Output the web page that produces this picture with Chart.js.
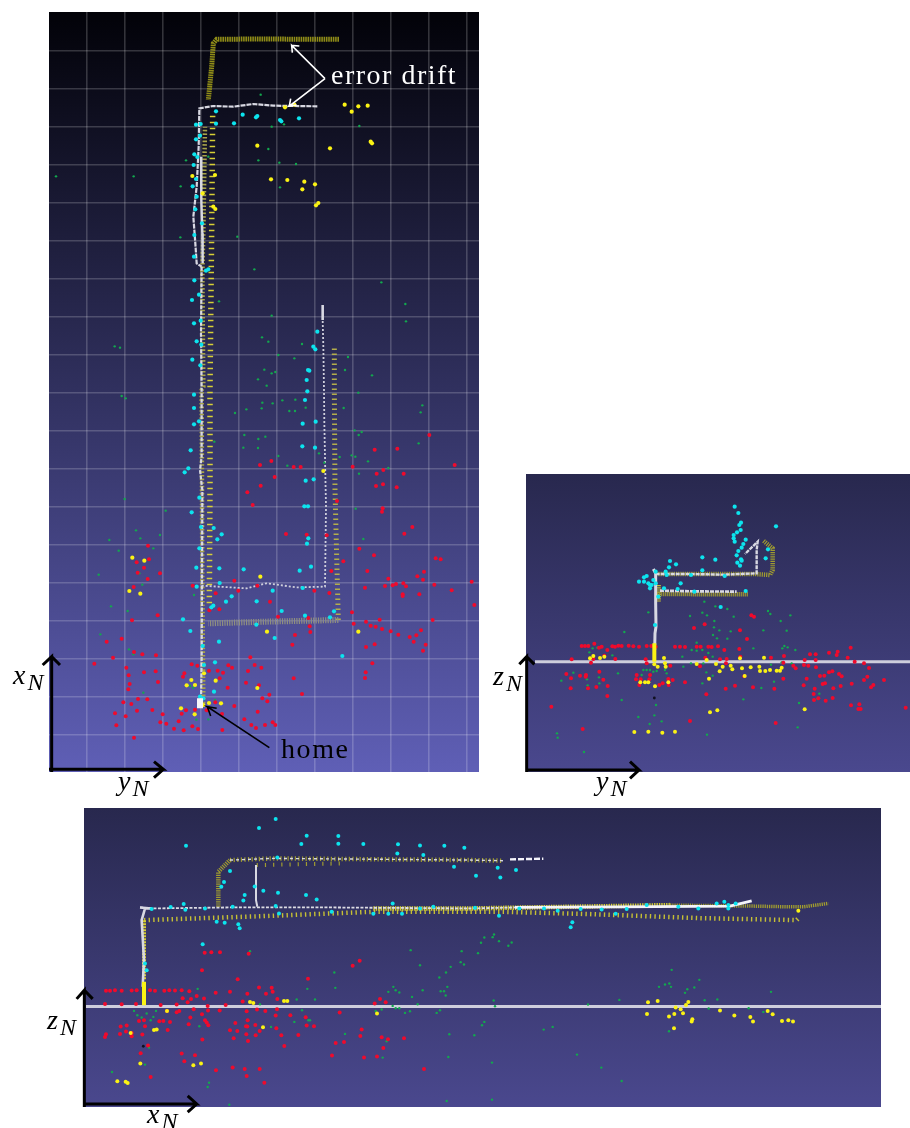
<!DOCTYPE html>
<html>
<head>
<meta charset="utf-8">
<title>Map views</title>
<script src="https://cdn.jsdelivr.net/npm/chart.js"></script>
<style>
html, body { margin: 0; padding: 0; background: #fff; }
body { position: relative; width: 910px; height: 1128px; overflow: hidden; }
canvas { position: absolute; display: block; }
.lbl { position: absolute; font-family: "Liberation Serif", serif; font-size: 28px; line-height: 28px; white-space: nowrap; color: #000; }
.lbl i sub { font-size: 24px; line-height: 0; vertical-align: -6px; margin-left: 2px; }
</style>
</head>
<body>
<canvas id="topView"></canvas>
<canvas id="sideView"></canvas>
<canvas id="frontView"></canvas>
<div class="lbl" style="left:331px;top:61px;color:#fff;letter-spacing:1.5px">error drift</div>
<div class="lbl" style="left:281px;top:735px;letter-spacing:1.6px">home</div>
<div class="lbl" style="left:13px;top:661px"><i>x<sub>N</sub></i></div>
<div class="lbl" style="left:118px;top:767px"><i>y<sub>N</sub></i></div>
<div class="lbl" style="left:493px;top:662px"><i>z<sub>N</sub></i></div>
<div class="lbl" style="left:596px;top:767px"><i>y<sub>N</sub></i></div>
<div class="lbl" style="left:47px;top:1006px"><i>z<sub>N</sub></i></div>
<div class="lbl" style="left:147px;top:1100px"><i>x<sub>N</sub></i></div>
<script>
// ========== TOP VIEW DATA (y_N, x_N) ========== //
const topGridY = [113,228,341,456,570,684,798,912,1026,1140,1253];
const topGridX = [112,226,340,454,568,682,796,910,1024,1138,1252,1366,1480,1594,1708,1822,1936,2050,2164];
const topRed = [[1141,1011],[977,967],[1045,970],[1217,921],[633,921],[667,933],[734,915],[755,915],[911,916],[1003,906],[983,895],[1064,895],[677,885],[635,859],[595,839],[981,858],[1002,863],[1043,854],[611,801],[864,813],[1001,791],[999,781],[1090,735],[1066,715],[711,714],[773,712],[833,710],[297,679],[931,670],[975,650],[300,638],[263,629],[285,613],[266,598],[333,596],[296,579],[883,632],[1160,641],[1175,638],[847,603],[955,603],[1125,601],[1105,587],[1122,577],[1018,580],[556,574],[948,553],[1008,558],[1031,560],[1041,564],[1063,566],[1071,557],[1156,562],[1268,571],[431,559],[254,555],[568,544],[625,559],[796,544],[841,537],[500,536],[1061,533],[1111,533],[1208,545],[1061,528],[663,511],[1276,501],[481,485],[511,488],[909,479],[326,470],[249,455],[687,466],[778,462],[914,445],[951,451],[992,457],[1151,456],[965,439],[980,436],[999,429],[1025,422],[782,437],[784,420],[1048,412],[1082,405],[1102,410],[1116,425],[738,411],[1094,391],[1130,382],[173,391],[218,400],[730,382],[951,375],[977,383],[1122,364],[255,360],[280,353],[321,350],[192,343],[604,344],[136,325],[232,313],[428,323],[445,319],[538,320],[549,313],[617,321],[637,313],[597,303],[970,326],[480,304],[506,304],[522,298],[406,296],[402,286],[285,299],[320,302],[239,290],[950,299],[948,282],[734,281],[512,281],[327,270],[591,268],[242,264],[536,253],[630,260],[238,248],[661,232],[759,234],[640,221],[655,212],[267,219],[295,218],[223,209],[247,204],[499,209],[556,198],[264,184],[310,186],[411,185],[438,187],[473,185],[626,181],[519,174],[198,176],[230,167],[341,173],[398,175],[586,158],[334,149],[352,145],[389,152],[607,141],[648,141],[671,149],[679,141],[202,140],[430,137],[621,132],[375,130],[404,125],[447,129],[520,126],[255,103]];
const topYellow = [[887,2002],[908,1981],[928,1997],[956,1999],[708,1994],[736,2002],[625,1879],[843,1871],[965,1891],[969,1886],[666,1778],[715,1776],[766,1771],[798,1763],[760,1748],[808,1707],[801,1700],[498,1791],[430,1788],[493,1696],[499,1689],[461,1736],[250,643],[286,634],[241,543],[274,535],[823,903],[634,586],[928,421],[654,421],[427,276],[413,260],[438,261],[500,274],[625,252],[396,191],[437,173],[480,207],[516,206],[463,201],[465,296]];
const topCyan = [[501,1982],[581,1972],[625,1968],[621,1964],[693,1956],[697,1952],[750,1961],[555,1946],[501,1945],[441,1942],[455,1944],[453,1909],[441,1898],[436,1853],[445,1845],[434,1821],[441,1779],[431,1757],[443,1726],[439,1688],[459,1646],[436,1611],[435,1546],[478,1508],[471,1504],[436,1475],[450,1432],[429,1416],[455,1354],[435,1346],[443,1292],[457,1282],[430,1237],[454,1220],[805,1321],[793,1276],[799,1268],[781,1204],[777,1206],[773,1176],[435,1132],[775,1142],[768,1116],[435,1092],[450,1052],[435,1043],[800,1051],[761,1045],[760,977],[798,973],[425,965],[418,911],[407,899],[770,874],[794,878],[451,823],[766,797],[777,797],[428,779],[456,735],[494,732],[518,713],[505,698],[778,701],[774,685],[451,671],[786,616],[752,604],[584,608],[511,611],[442,613],[512,567],[443,556],[671,544],[761,552],[548,527],[531,511],[623,512],[493,499],[487,494],[855,482],[698,483],[768,469],[843,464],[402,458],[622,442],[424,423],[677,402],[510,391],[880,348],[498,329],[461,378],[465,321],[453,226],[463,221],[495,241]];
const topGreen = [[21,1787],[254,1787],[635,2032],[668,1936],[705,1943],[931,1938],[658,1869],[628,1835],[691,1828],[741,1824],[693,1754],[411,1835],[478,1846],[395,1757],[394,1604],[565,1606],[616,1508],[997,1469],[1069,1404],[1071,1352],[510,1412],[668,1369],[639,1304],[658,1291],[759,1284],[197,1277],[213,1273],[897,1245],[688,1251],[736,1241],[888,1206],[646,1207],[679,1200],[668,1196],[627,1178],[653,1159],[969,1190],[218,1128],[230,1121],[558,1077],[640,1108],[671,1106],[700,1115],[739,1117],[592,1088],[638,1091],[721,1083],[738,1083],[770,1093],[884,1092],[1120,1100],[1115,1079],[928,1138],[586,1011],[628,999],[649,1006],[583,973],[627,972],[917,1025],[938,1020],[929,1011],[1109,986],[688,948],[810,956],[908,950],[919,946],[872,945],[957,932],[826,928],[715,919],[1018,912],[930,895],[227,819],[350,784],[920,790],[261,725],[274,701],[333,711],[181,696],[209,664],[313,671],[943,699],[149,592],[271,596],[280,562],[435,531],[186,497],[236,483],[154,413],[240,368],[253,353],[496,991],[283,238],[423,258],[433,253],[498,216],[442,157],[478,158]];
const topDriftEnd = [[870,2198],[613,2199],[503,2198],[493,2186],[488,2116],[478,2016]];
const topColumnOuter = [[481,506],[483,846],[483,1146],[488,1616],[491,1976]];
const topColumnInner = [[463,206],[460,546],[458,1146],[463,1156],[460,1496],[463,1616],[468,1936]];
const topLegLow = [[868,456],[653,451],[478,446]];
const topLegUp = [[868,456],[863,646],[858,846],[856,1146],[856,1276]];
const topWhiteUpper = [[805,1997],[673,1999],[613,2004],[553,1996],[493,1998],[451,1991],[449,1876],[443,1756],[433,1666],[439,1586],[443,1526],[458,1516]];
const topWhiteStrand = [[456,1846],[457,1716],[460,1616],[461,1526]];
const topWhiteMain = [[458,1516],[456,1316],[458,1146],[458,946],[453,906],[460,846],[459,566],[458,346],[456,216]];
const topWhiteLeg = [[458,559],[593,551],[653,566],[743,554],[828,556],[831,796],[826,1046],[825,1146],[823,1276],[821,1356]];
const topWhiteTip = [[821,1356],[821,1401]];
const topHome = [[453,221],[453,191]];
const topArrowDriftA = [[828,2080],[728,2180],[730,2158],[728,2180],[751,2178]];
const topArrowDriftB = [[828,2080],[721,1998],[743,2001],[721,1998],[725,2020]];
const topArrowHome = [[661,73],[475,196],[503,191],[475,196],[485,168]];
const topAxisUp = [[8,0],[8,346],[-19,321],[8,346],[33,321]];
const topAxisRight = [[0,8],[343,8],[315,31],[343,8],[315,-17]];

// ========== SIDE VIEW DATA (y_N, z_N) ========== //
const sideRed = [[167,378],[177,378],[187,378],[205,385],[219,373],[227,376],[259,377],[267,376],[277,379],[287,378],[308,379],[322,377],[339,376],[362,378],[376,378],[389,376],[447,376],[462,376],[477,375],[512,376],[524,376],[547,376],[557,375],[576,377],[676,470],[684,466],[536,443],[504,432],[642,425],[663,399],[595,366],[640,369],[643,346],[735,343],[774,348],[974,373],[909,358],[935,361],[932,351],[852,353],[869,353],[965,343],[137,338],[202,339],[195,328],[244,366],[235,349],[268,339],[359,338],[362,326],[433,319],[522,317],[582,338],[602,339],[600,326],[538,343],[772,328],[802,319],[809,311],[834,321],[847,319],[836,336],[869,336],[870,314],[1014,326],[1029,312],[986,331],[121,294],[135,281],[162,289],[180,291],[179,286],[220,301],[232,277],[330,278],[332,291],[344,278],[372,291],[370,278],[427,279],[440,276],[477,269],[428,261],[410,266],[400,261],[340,261],[655,287],[772,280],[842,280],[882,288],[895,289],[909,299],[919,302],[939,294],[947,287],[1024,286],[1014,276],[1074,276],[977,265],[1042,261],[1035,254],[944,258],[922,251],[897,266],[890,264],[833,260],[866,250],[863,234],[877,221],[864,216],[899,214],[920,222],[134,251],[186,251],[211,255],[245,258],[244,228],[599,250],[627,259],[681,254],[745,250],[541,233],[76,196],[975,200],[1000,203],[997,189],[1004,189],[1139,193],[170,129],[492,153],[749,147]];
const sideYellow = [[192,341],[202,348],[222,342],[235,346],[385,323],[414,342],[417,326],[419,316],[395,316],[542,336],[512,324],[570,324],[590,316],[614,319],[619,308],[642,341],[648,311],[674,314],[700,316],[702,303],[718,303],[732,306],[714,343],[752,304],[762,304],[767,313],[581,302],[656,288],[549,280],[343,269],[357,269],[367,269],[427,269],[387,257],[552,179],[574,185],[836,188],[325,120],[367,121],[409,118],[447,121]];
const sideCyan = [[626,796],[637,777],[750,737],[645,748],[640,741],[644,726],[633,719],[623,711],[623,701],[626,691],[659,697],[652,684],[647,673],[637,663],[632,650],[645,638],[647,634],[634,628],[642,619],[719,641],[726,668],[529,644],[568,637],[432,633],[450,623],[429,614],[529,605],[419,601],[389,601],[362,588],[354,584],[339,571],[354,571],[367,566],[377,561],[372,551],[464,566],[414,551],[455,549],[505,541],[659,543],[397,526],[584,495],[596,588],[495,591],[422,591],[387,441],[382,576],[389,566],[372,561]];
const sideGreen = [[187,381],[190,359],[192,343],[200,371],[214,373],[259,350],[295,420],[367,479],[492,468],[529,478],[543,470],[535,511],[568,497],[604,489],[623,466],[565,453],[564,434],[561,411],[580,425],[573,401],[614,422],[604,400],[726,483],[733,474],[764,453],[793,470],[782,424],[712,425],[682,371],[769,371],[775,378],[785,374],[808,366],[469,346],[512,388],[497,366],[529,366],[547,357],[560,346],[512,364],[495,326],[472,316],[532,326],[735,322],[767,329],[797,326],[352,306],[362,306],[347,291],[372,306],[382,301],[392,303],[422,296],[417,306],[276,296],[142,298],[106,274],[183,278],[185,260],[219,284],[220,266],[541,299],[560,289],[529,266],[744,271],[706,252],[652,218],[287,216],[390,201],[337,165],[385,170],[407,152],[371,144],[93,116],[95,103],[174,60],[543,112],[815,134],[819,207],[880,235],[875,219]];
const sideDark = [[385,222]];
const sideWhiteMain = [[382,609],[389,596],[389,506],[390,436],[387,416],[386,366]];
const sideWhiteUpper = [[389,594],[492,594],[592,592],[692,596],[692,666],[695,691],[657,654]];
const sideWhiteLower = [[402,544],[512,542],[632,541]];
const sideOliveUpper = [[397,594],[687,594],[732,591],[740,606],[740,671],[712,694]];
const sideOliveLower = [[392,534],[667,533]];
const sideOliveStem = [[397,561],[397,511]];
const sideYellowStem = [[385,386],[385,331]];
const sideGround = [[27,331],[1152,331]];
const sideAxisUp = [[2,0],[2,346],[-20,323],[2,346],[25,323]];
const sideAxisRight = [[0,6],[339,6],[312,31],[339,6],[312,-19]];

// ========== FRONT VIEW DATA (x_N, z_N) ========== //
const frontRed = [[66,348],[78,348],[93,350],[113,348],[143,349],[158,350],[198,350],[213,348],[241,348],[256,350],[273,349],[293,350],[316,347],[63,309],[113,308],[156,309],[230,306],[278,307],[296,326],[321,324],[311,314],[338,333],[360,325],[395,342],[438,345],[490,339],[525,358],[546,339],[563,357],[566,345],[580,324],[476,316],[425,306],[371,303],[362,462],[382,464],[408,464],[494,459],[354,410],[461,383],[672,384],[806,423],[827,438],[888,324],[905,314],[872,310],[128,244],[110,241],[126,226],[108,219],[143,222],[143,212],[175,217],[66,218],[63,210],[165,258],[180,260],[183,242],[226,257],[238,258],[258,255],[251,231],[249,288],[278,284],[286,288],[329,293],[319,268],[314,248],[354,278],[372,289],[407,289],[363,260],[368,253],[373,245],[355,202],[438,230],[460,228],[454,252],[449,206],[491,260],[486,242],[490,241],[487,218],[492,198],[514,246],[515,215],[527,228],[488,287],[519,292],[544,288],[575,274],[579,293],[619,275],[665,269],[668,244],[690,242],[577,236],[592,215],[643,216],[601,183],[767,283],[833,232],[829,213],[755,192],[780,195],[893,209],[912,203],[898,177],[960,206],[744,154],[840,148],[879,151],[1020,114],[192,184],[170,161],[293,160],[333,155],[301,137],[396,110],[446,118],[482,114],[527,114],[488,93],[541,73],[200,90]];
const frontYellow = [[140,222],[210,231],[218,232],[249,288],[498,315],[508,312],[600,318],[610,318],[879,280],[537,239],[169,130],[328,125],[351,130],[100,77],[125,76],[131,72],[1692,314],[1721,318],[1689,279],[1775,298],[1790,293],[1806,306],[1813,315],[1755,271],[1771,279],[1797,281],[1825,263],[1823,256],[1770,236],[1908,289],[1951,274],[1999,270],[2007,256],[2051,288],[2066,278],[2094,258],[2113,260],[2127,256],[2143,588]];
const frontCyan = [[575,863],[525,836],[668,813],[763,812],[652,788],[763,789],[838,788],[942,787],[1008,784],[1081,783],[1141,777],[306,783],[940,760],[1018,755],[1110,720],[580,748],[438,707],[420,674],[412,660],[512,661],[538,648],[582,642],[666,635],[698,622],[482,635],[478,619],[926,610],[1048,600],[299,608],[304,591],[260,599],[203,593],[363,595],[446,600],[575,602],[743,585],[868,579],[913,579],[954,579],[1008,595],[585,580],[398,555],[422,552],[463,548],[467,536],[356,488],[183,430],[188,410],[1241,717],[1296,710],[1176,693],[1249,688],[1245,573],[1465,554],[1460,539],[1173,597],[1306,595],[1380,595],[1421,588],[1490,593],[1553,592],[1595,579],[1628,593],[1688,605],[1783,600],[1843,595],[1898,610],[1921,615],[1933,605],[1933,595],[1955,610]];
const frontGreen = [[498,467],[751,403],[754,357],[670,354],[693,322],[638,322],[341,354],[528,308],[980,470],[1133,467],[1008,425],[1100,420],[1130,434],[1140,427],[1086,403],[1066,388],[1090,360],[1070,347],[1080,347],[1085,334],[1016,350],[984,330],[928,360],[935,350],[946,343],[913,345],[1001,308],[926,303],[935,296],[946,296],[1068,290],[1058,282],[978,287],[963,282],[893,292],[875,288],[908,197],[1096,218],[1093,150],[783,219],[654,290],[673,260],[678,260],[631,255],[561,240],[346,242],[150,288],[160,275],[173,268],[188,280],[208,270],[216,288],[200,260],[195,178],[183,127],[84,105],[375,73],[371,60],[436,7],[1088,18],[896,148],[1201,508],[1191,492],[1226,509],[1230,517],[1245,497],[1273,483],[1283,493],[1182,461],[1229,319],[1233,302],[1512,307],[1606,321],[1201,255],[1194,245],[1171,215],[1379,232],[1406,240],[1479,157],[1552,118],[1613,78],[1224,133],[1224,22],[1763,411],[1725,360],[1743,367],[1756,370],[1761,360],[1846,381],[1810,353],[1803,342],[1831,358],[1862,320],[1900,322],[2061,345],[1874,295],[1994,296],[2038,285],[1755,227]];
const frontDark = [[178,182]];
const frontWhiteFaint = [[168,598],[203,595],[438,598],[738,598],[1158,595],[1293,598]];
const frontWhiteMain = [[1293,598],[1608,600],[1938,602],[2003,618]];
const frontWhiteCorner = [[168,598],[203,595],[183,595],[173,560],[180,440],[176,360]];
const frontWhiteDrop = [[516,725],[516,620],[520,600]];
const frontWhiteUpper = [[438,740],[568,745],[1158,740],[1258,738]];
const frontWhiteEnd = [[1278,742],[1378,744]];
const frontOliveUpper = [[438,740],[568,745],[1158,740],[1258,738]];
const frontOliveCorner = [[403,600],[403,705],[438,740]];
const frontOliveRow = [[518,725],[778,730]];
const frontYellowLow = [[180,560],[538,572],[868,585],[1258,585],[1518,578],[1848,566],[2138,560],[2148,570]];
const frontYellowMid = [[868,595],[1158,595],[1758,605]];
const frontOliveMid = [[1758,605],[2008,602],[2108,600],[2158,600],[2233,610]];
const frontYellowStem = [[180,560],[180,440],[180,380]];
const frontYellowFoot = [[180,375],[180,305]];
const frontGround = [[6,301],[2391,301]];
const frontAxisUp = [[1,0],[1,350],[-22,324],[1,350],[26,324]];
const frontAxisRight = [[0,9],[338,9],[311,33],[338,9],[311,-15]];

// ========== STYLE HELPERS ========== //
const RED = '#f00a2c', YELLOW = '#fbf314', CYAN = '#0ce4ee', GREEN = '#12a84e';
const OLIVE = '#a09c30', WHITE = '#d8d8e2';

function pts(list) {
    return list.map(p => ({ x: p[0], y: p[1] }));
}
function dots(list, color, radius) {
    return { data: pts(list), pointRadius: radius, pointBackgroundColor: color, pointBorderWidth: 0, showLine: false };
}
function track(list, color, width, dash) {
    return { data: pts(list), showLine: true, borderColor: color, borderWidth: width, borderDash: dash || [], pointRadius: 0, tension: 0, borderCapStyle: 'butt' };
}
function arrow(list, color, width) {
    return { data: pts(list), showLine: true, borderColor: color, borderWidth: width, pointRadius: 0, tension: 0, clip: false, crisp: true, borderJoinStyle: 'miter' };
}

// gradient panel behind the scales + soft blur on the map marks
const panelPlugin = {
    id: 'panelBg',
    beforeDraw(chart, args, opts) {
        const a = chart.chartArea, ctx = chart.ctx;
        const g = ctx.createLinearGradient(0, a.top, 0, a.bottom);
        g.addColorStop(0, opts.top);
        g.addColorStop(1, opts.bottom);
        ctx.save();
        ctx.fillStyle = g;
        ctx.fillRect(a.left, a.top, a.right - a.left, a.bottom - a.top);
        ctx.restore();
    },
    beforeDatasetDraw(chart, args) {
        chart.ctx.filter = chart.data.datasets[args.index].crisp ? 'none' : 'blur(0.6px)';
    },
    afterDatasetDraw(chart) {
        chart.ctx.filter = 'none';
    }
};

function makeView(id, box, pad, range, bg, datasets, gridY, gridX) {
    const canvas = document.getElementById(id);
    const w = box.w + pad.left + pad.right, h = box.h + pad.top + pad.bottom;
    canvas.width = w;
    canvas.height = h;
    canvas.style.left = (box.x - pad.left) + 'px';
    canvas.style.top = (box.y - pad.top) + 'px';
    canvas.style.width = w + 'px';
    canvas.style.height = h + 'px';
    const axis = (max, grid) => ({
        type: 'linear', min: 0, max: max, display: !!grid,
        border: { display: false },
        ticks: { display: false },
        grid: { color: 'rgba(255,255,255,0.19)', lineWidth: 1.6, drawTicks: false },
        afterBuildTicks: s => { if (grid) s.ticks = grid.map(v => ({ value: v })); }
    });
    return new Chart(canvas, {
        type: 'scatter',
        data: { datasets },
        plugins: [panelPlugin],
        options: {
            responsive: false,
            animation: false,
            events: [],
            layout: { padding: pad, autoPadding: false },
            scales: { x: axis(range.x, gridY), y: axis(range.y, gridX) },
            plugins: { legend: { display: false }, tooltip: { enabled: false }, panelBg: bg }
        }
    });
}

// ========== CHARTS ========== //
const darkBg = { top: '#020208', bottom: '#5f5fb6' };
const dimBg = { top: '#28284e', bottom: '#4a488e' };

makeView('topView', { x: 49, y: 12, w: 430, h: 760 }, { left: 14, right: 4, top: 4, bottom: 14 }, { x: 1290, y: 2280 }, darkBg, [
    arrow(topArrowDriftA, '#fff', 1.6),
    arrow(topArrowDriftB, '#fff', 1.6),
    arrow(topArrowHome, '#000', 1.6),
    arrow(topAxisUp, '#000', 3),
    arrow(topAxisRight, '#000', 3),
    track(topHome, '#f6f6fa', 6),
    dots(topCyan, CYAN, 2.1),
    dots(topYellow, YELLOW, 2.1),
    dots(topRed, RED, 2),
    dots(topGreen, GREEN, 1.2),
    track(topWhiteTip, WHITE, 2.6),
    track(topWhiteUpper, WHITE, 2.2, [5, 1]),
    track(topWhiteStrand, WHITE, 2.4),
    track(topWhiteMain, WHITE, 2.2, [4, 1.5]),
    track(topWhiteLeg, '#cfcfdc', 1.8, [2, 2]),
    track(topDriftEnd, '#8f8c18', 5, [1.6, 0.7]),
    track(topColumnOuter, '#d6cf36', 5.5, [1.6, 4.4]),
    track(topColumnInner, '#a8a448', 4.5, [1.6, 2]),
    track(topLegLow, '#8f8f80', 6, [1.2, 1.2]),
    track(topLegUp, '#b4ae4c', 5, [1.5, 3.5])
], topGridY, topGridX);

makeView('sideView', { x: 526, y: 474, w: 384, h: 298 }, { left: 14, right: 0, top: 4, bottom: 14 }, { x: 1152, y: 894 }, dimBg, [
    arrow(sideAxisUp, '#000', 3),
    arrow(sideAxisRight, '#000', 3),
    track(sideYellowStem, YELLOW, 4),
    dots(sideDark, '#101020', 1.4),
    dots(sideCyan, CYAN, 2.1),
    dots(sideYellow, YELLOW, 2),
    dots(sideRed, RED, 2),
    dots(sideGreen, GREEN, 1.2),
    track(sideWhiteMain, WHITE, 3),
    track(sideWhiteUpper, WHITE, 2.4, [4, 1]),
    track(sideWhiteLower, WHITE, 2.6, [4, 1]),
    track(sideOliveUpper, OLIVE, 4.5, [1.2, 1]),
    track(sideOliveLower, OLIVE, 4.5, [1.2, 0.8]),
    track(sideOliveStem, '#c8c030', 5, [1.2, 1]),
    track(sideGround, 'rgba(226,226,234,0.88)', 3)
]);

makeView('frontView', { x: 84, y: 808, w: 797, h: 299 }, { left: 14, right: 4, top: 4, bottom: 14 }, { x: 2391, y: 896 }, dimBg, [
    arrow(frontAxisUp, '#000', 3),
    arrow(frontAxisRight, '#000', 3),
    dots(frontDark, '#101020', 1.4),
    track(frontYellowFoot, YELLOW, 4),
    dots(frontCyan, CYAN, 2),
    dots(frontYellow, YELLOW, 2),
    dots(frontRed, RED, 2),
    dots(frontGreen, GREEN, 1.2),
    track(frontWhiteMain, '#f4f4fa', 2.8),
    track(frontWhiteEnd, '#f4f4fa', 2.4, [6, 2]),
    track(frontWhiteDrop, WHITE, 2),
    track(frontWhiteCorner, WHITE, 2.6),
    track(frontWhiteFaint, '#dcdce4', 1.8, [3, 1.5]),
    track(frontWhiteUpper, '#d8d8e0', 1.4, [3, 3]),
    track(frontYellowStem, '#d8d030', 4, [2, 1]),
    track(frontYellowMid, '#d6cf36', 4.5, [1.4, 1]),
    track(frontYellowLow, '#c6c034', 4.5, [1.4, 3.2]),
    track(frontOliveMid, OLIVE, 3.5, [1.3, 0.9]),
    track(frontOliveUpper, OLIVE, 4.5, [1.2, 2.4]),
    track(frontOliveRow, OLIVE, 4, [1.2, 7]),
    track(frontOliveCorner, OLIVE, 4.5, [1.2, 1]),
    track(frontGround, 'rgba(226,226,234,0.88)', 3)
]);
</script>
</body>
</html>
